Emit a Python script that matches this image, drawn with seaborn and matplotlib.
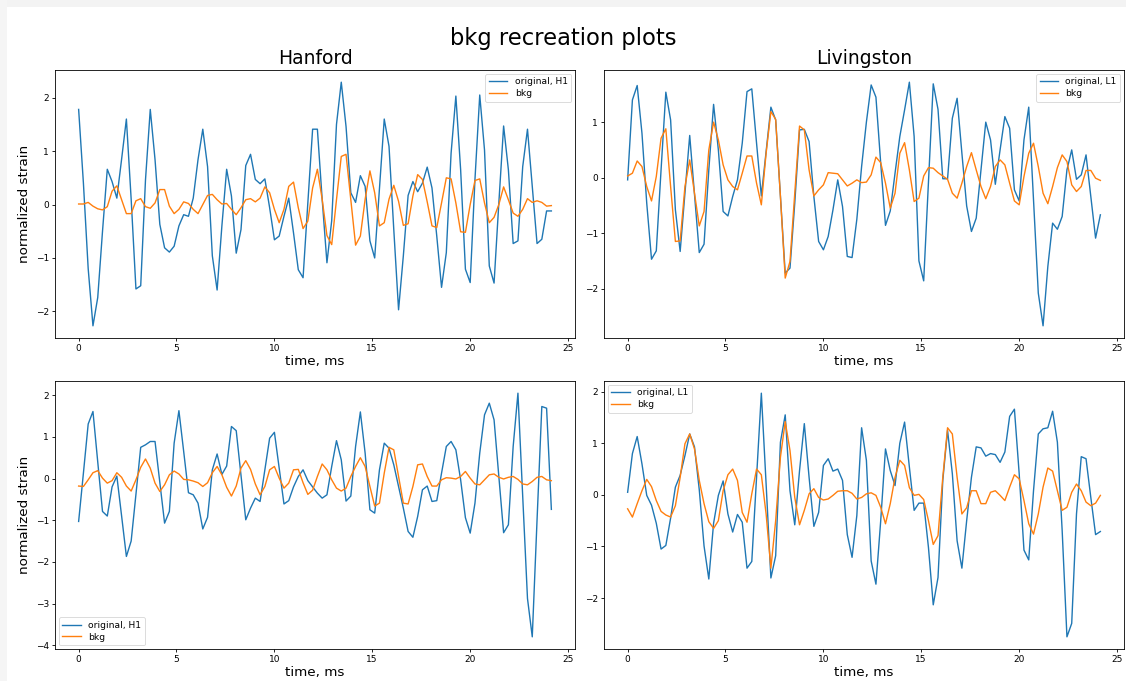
import numpy as np
import matplotlib
matplotlib.use("Agg")
import matplotlib.pyplot as plt
from matplotlib.patches import Rectangle
import seaborn as sns

# sample times (4096 Hz sampling, 100 samples) in ms
time_ms = np.arange(100) * 1000.0 / 4096.0

hanford_top_orig = [1.78, 0.4, -1.2, -2.27, -1.74, -0.5, 0.66, 0.43, 0.12, 0.85,
                    1.6, 0.1, -1.58, -1.52, 0.46, 1.78, 0.84, -0.37, -0.81, -0.89,
                    -0.78, -0.4, -0.19, -0.22, 0.12, 0.84, 1.41, 0.71, -0.96, -1.6,
                    -0.4, 0.66, 0.16, -0.91, -0.47, 0.73, 0.94, 0.47, 0.39, 0.48,
                    -0.06, -0.66, -0.59, -0.22, 0.12, -0.53, -1.22, -1.37, 0.03, 1.41,
                    1.41, 0.1, -1.09, -0.3, 1.5, 2.29, 1.46, 0.22, 0.04, 0.54,
                    0.34, -0.68, -1.0, 0.3, 1.6, 1.09, -0.47, -1.97, -0.96, 0.17,
                    0.43, 0.24, 0.4, 0.7, 0.31, -0.59, -1.55, -0.9, 0.96, 2.03,
                    0.65, -1.21, -1.46, 0.47, 2.05, 1.02, -1.15, -1.47, 0.03, 1.47,
                    0.65, -0.73, -0.68, 0.71, 1.41, 0.34, -0.73, -0.65, -0.12, -0.12]
hanford_top_bkg = [0.01, 0.01, 0.04, -0.03, -0.08, -0.1, -0.04, 0.25, 0.35, 0.09,
                   -0.17, -0.17, 0.07, 0.11, -0.04, -0.07, 0.03, 0.28, 0.28, -0.03,
                   -0.17, -0.09, 0.05, 0.02, -0.09, -0.17, 0.0, 0.17, 0.19, 0.09,
                   0.01, 0.02, -0.09, -0.19, -0.06, 0.09, 0.11, 0.05, 0.12, 0.33,
                   0.22, -0.09, -0.34, -0.09, 0.34, 0.42, -0.06, -0.45, -0.31, 0.31,
                   0.66, 0.1, -0.58, -0.75, 0.09, 0.9, 0.94, 0.09, -0.76, -0.59,
                   0.1, 0.63, 0.22, -0.4, -0.34, 0.1, 0.36, 0.06, -0.39, -0.36,
                   0.16, 0.56, 0.47, 0.05, -0.4, -0.43, 0.03, 0.5, 0.48, 0.03,
                   -0.51, -0.52, 0.0, 0.45, 0.48, 0.03, -0.34, -0.24, 0.0, 0.33,
                   0.09, -0.16, -0.22, -0.09, 0.11, 0.04, 0.07, 0.04, -0.03, -0.02]

livingston_top_orig = [-0.04, 1.4, 1.66, 0.8, -0.46, -1.47, -1.32, 0.14, 1.54, 1.04,
                       -0.58, -1.33, -0.28, 0.76, -0.3, -1.35, -1.2, 0.14, 1.32, 0.5,
                       -0.61, -0.69, -0.34, -0.04, 0.62, 1.55, 1.6, 0.62, -0.33, 0.47,
                       1.27, 1.04, -0.34, -1.72, -1.63, -0.46, 0.86, 0.87, 0.65, -0.34,
                       -1.15, -1.3, -1.06, -0.58, -0.04, -0.52, -1.42, -1.44, -0.75, 0.2,
                       1.0, 1.67, 1.45, 0.26, -0.86, -0.6, 0.08, 0.74, 1.22, 1.72,
                       0.74, -1.5, -1.86, -0.08, 1.69, 1.23, -0.02, -0.02, 1.07, 1.43,
                       0.44, -0.51, -0.97, -0.73, 0.14, 1.0, 0.68, -0.12, 0.5, 1.1,
                       0.89, -0.22, -0.42, 0.68, 1.27, -0.4, -2.08, -2.67, -1.6, -0.82,
                       -0.93, -0.7, 0.14, 0.5, -0.03, 0.05, 0.41, -0.34, -1.09, -0.67]
livingston_top_bkg = [0.03, 0.08, 0.3, 0.2, -0.16, -0.42, 0.02, 0.71, 0.88, -0.16,
                      -1.15, -1.14, -0.16, 0.32, -0.28, -0.87, -0.61, 0.5, 1.0, 0.68,
                      0.23, -0.04, -0.16, -0.22, 0.08, 0.39, 0.39, -0.1, -0.49, 0.44,
                      1.19, 1.05, -0.34, -1.81, -1.51, -0.28, 0.93, 0.86, 0.14, -0.33,
                      -0.22, -0.13, 0.09, 0.08, 0.07, -0.04, -0.15, -0.1, -0.04, -0.09,
                      -0.08, 0.05, 0.37, 0.27, -0.1, -0.55, -0.28, 0.44, 0.63, 0.14,
                      -0.43, -0.37, 0.03, 0.18, 0.17, 0.09, 0.03, -0.03, -0.28, -0.37,
                      -0.1, 0.2, 0.45, 0.14, -0.16, -0.38, -0.16, 0.2, 0.32, 0.23,
                      -0.1, -0.42, -0.49, 0.02, 0.44, 0.62, 0.2, -0.28, -0.47, -0.16,
                      0.18, 0.41, 0.29, -0.13, -0.25, -0.16, 0.13, 0.13, -0.01, -0.05]

hanford_bot_orig = [-1.03, 0.13, 1.31, 1.61, 0.4, -0.79, -0.9, -0.2, 0.06, -0.9,
                    -1.87, -1.5, -0.38, 0.75, 0.81, 0.89, 0.89, -0.09, -1.07, -0.79,
                    0.85, 1.63, 0.65, -0.34, -0.39, -0.59, -1.21, -0.93, 0.21, 0.59,
                    0.1, 0.3, 1.25, 1.15, 0.08, -0.99, -0.71, -0.47, -0.55, 0.21,
                    0.97, 1.11, 0.25, -0.61, -0.53, -0.2, 0.05, 0.21, -0.05, -0.2,
                    -0.35, -0.47, -0.39, 0.29, 0.91, 0.45, -0.54, -0.42, 0.77, 1.6,
                    0.61, -0.75, -0.83, 0.21, 0.85, 0.73, 0.33, -0.19, -0.71, -1.27,
                    -1.41, -0.91, -0.27, -0.18, -0.55, -0.53, 0.13, 0.77, 0.89, 0.69,
                    -0.03, -0.94, -1.31, -0.59, 0.61, 1.53, 1.81, 1.41, 0.05, -1.3,
                    -1.11, 0.77, 2.05, -0.43, -2.88, -3.8, -1.0, 1.73, 1.69, -0.74]
hanford_bot_bkg = [-0.18, -0.19, -0.03, 0.14, 0.19, 0.01, -0.11, -0.05, 0.14, 0.03,
                   -0.18, -0.3, -0.03, 0.27, 0.47, 0.25, -0.11, -0.31, -0.15, 0.09,
                   0.18, 0.11, -0.02, -0.03, -0.06, -0.1, -0.19, -0.1, 0.14, 0.29,
                   0.09, -0.21, -0.42, -0.18, 0.25, 0.43, 0.22, -0.13, -0.39, -0.19,
                   0.21, 0.29, 0.01, -0.23, -0.11, 0.21, 0.22, -0.1, -0.38, -0.28,
                   0.05, 0.35, 0.21, -0.03, -0.23, -0.3, -0.23, 0.05, 0.29, 0.5,
                   0.29, -0.19, -0.66, -0.59, 0.13, 0.75, 0.69, 0.05, -0.59, -0.61,
                   -0.19, 0.33, 0.35, 0.05, -0.18, -0.18, -0.03, 0.02, 0.01, -0.01,
                   0.05, 0.17, 0.01, -0.13, -0.15, -0.03, 0.09, 0.11, 0.03, -0.01,
                   0.03, 0.05, -0.02, -0.13, -0.15, -0.07, 0.03, 0.05, -0.03, -0.05]

livingston_bot_orig = [0.05, 0.8, 1.13, 0.6, -0.01, -0.2, -0.55, -1.05, -0.98, -0.45,
                       0.15, 0.38, 0.76, 1.18, 0.93, 0.1, -0.99, -1.63, -0.55, -0.01,
                       0.27, -0.37, -0.72, -0.38, -0.53, -1.42, -1.29, 0.34, 1.97, 0.21,
                       -1.61, -1.18, 1.02, 1.55, 0.08, -0.58, 0.47, 1.38, 0.34, -0.61,
                       -0.34, 0.57, 0.7, 0.46, 0.5, 0.28, -0.77, -1.21, -0.4, 1.3,
                       0.67, -1.28, -1.73, -0.5, 0.89, 0.47, 0.18, 1.0, 1.41, 0.54,
                       -0.3, -0.16, -0.16, -1.02, -2.13, -1.6, 0.28, 1.25, 0.41, -0.89,
                       -1.42, -0.5, 0.34, 0.93, 0.91, 0.75, 0.8, 0.78, 0.63, 0.83,
                       1.52, 1.66, 0.41, -1.07, -1.26, 0.08, 1.18, 1.28, 1.3, 1.62,
                       1.02, -0.69, -2.75, -2.49, -0.37, 0.74, 0.7, -0.05, -0.77, -0.71]
livingston_bot_bkg = [-0.27, -0.43, -0.17, 0.08, 0.3, 0.16, -0.11, -0.32, -0.39, -0.43,
                      -0.21, 0.34, 0.99, 1.18, 0.89, 0.28, -0.17, -0.52, -0.65, -0.5,
                      0.08, 0.39, 0.5, 0.28, -0.34, -0.53, 0.02, 0.5, 0.39, -0.37,
                      -1.42, -0.5, 0.73, 1.42, 0.86, -0.05, -0.58, -0.3, 0.02, 0.12,
                      -0.05, -0.1, -0.08, -0.01, 0.07, 0.08, 0.08, 0.03, -0.08, -0.05,
                      0.02, 0.04, -0.01, -0.24, -0.56, -0.17, 0.34, 0.67, 0.57, 0.14,
                      -0.01, 0.01, -0.09, -0.5, -0.96, -0.79, 0.34, 1.3, 1.18, 0.34,
                      -0.37, -0.25, 0.08, 0.08, -0.17, -0.17, 0.05, 0.08, -0.01, -0.11,
                      0.15, 0.39, 0.31, -0.11, -0.56, -0.76, -0.37, 0.15, 0.52, 0.46,
                      0.08, -0.3, -0.24, 0.05, 0.21, 0.08, -0.14, -0.21, -0.16, -0.01]

col_titles = ["Hanford", "Livingston"]
orig_labels = ["original, H1", "original, L1"]
bkg_label = "bkg"
colors = ["#1f77b4", "#ff7f0e"]

plt.rcParams.update({
    "axes.linewidth": 0.6,
    "xtick.major.size": 2.2,
    "ytick.major.size": 2.2,
    "xtick.major.width": 0.6,
    "ytick.major.width": 0.6,
    "xtick.labelsize": 6.5,
    "ytick.labelsize": 6.5,
    "xtick.major.pad": 2.2,
    "ytick.major.pad": 2.2,
    "legend.fontsize": 6.6,
})

fig = plt.figure(figsize=(11.26, 6.81), dpi=100)
W, H = 1126, 681

# light grey screenshot border at top and left, as in the reference
fig.patches.append(Rectangle((0, 1 - 7 / H), 1, 7 / H, transform=fig.transFigure,
                             facecolor="#f3f3f3", edgecolor="none", zorder=-10))
fig.patches.append(Rectangle((0, 0), 7 / W, 1, transform=fig.transFigure,
                             facecolor="#f5f5f5", edgecolor="none", zorder=-10))

boxes = {
    (0, 0): (55, 70, 575, 338),
    (0, 1): (604, 70, 1124, 338),
    (1, 0): (55, 381, 575, 649),
    (1, 1): (604, 381, 1124, 649),
}
panels = {
    (0, 0): (hanford_top_orig, hanford_top_bkg, 0, "upper right"),
    (0, 1): (livingston_top_orig, livingston_top_bkg, 1, "upper right"),
    (1, 0): (hanford_bot_orig, hanford_bot_bkg, 0, "lower left"),
    (1, 1): (livingston_bot_orig, livingston_bot_bkg, 1, "upper left"),
}

for (r, c), (x0, y0, x1, y1) in boxes.items():
    ax = fig.add_axes([x0 / W, 1 - y1 / H, (x1 - x0) / W, (y1 - y0) / H])
    orig, bkg, det, loc = panels[(r, c)]
    sns.lineplot(x=time_ms, y=orig, ax=ax, color=colors[0], linewidth=1.0,
                 label=orig_labels[det])
    sns.lineplot(x=time_ms, y=bkg, ax=ax, color=colors[1], linewidth=1.0,
                 label=bkg_label)
    ax.set_xticks([0, 5, 10, 15, 20, 25])
    ax.set_xlabel("time, ms", fontsize=9.7, labelpad=1.5)
    if c == 0:
        ax.set_ylabel("normalized strain", fontsize=9.7, labelpad=3)
    else:
        ax.set_ylabel("")
    if r == 0:
        ax.set_title(col_titles[c], fontsize=13.5, pad=4)
    leg = ax.legend(loc=loc, handlelength=2.0, borderpad=0.4, labelspacing=0.3,
                    handletextpad=0.8, borderaxespad=0.4)
    leg.get_frame().set_linewidth(0.6)

fig.suptitle("bkg recreation plots", fontsize=16.3, y=1 - 38 / H, va="center")
fig.savefig("out.png", dpi=100)
